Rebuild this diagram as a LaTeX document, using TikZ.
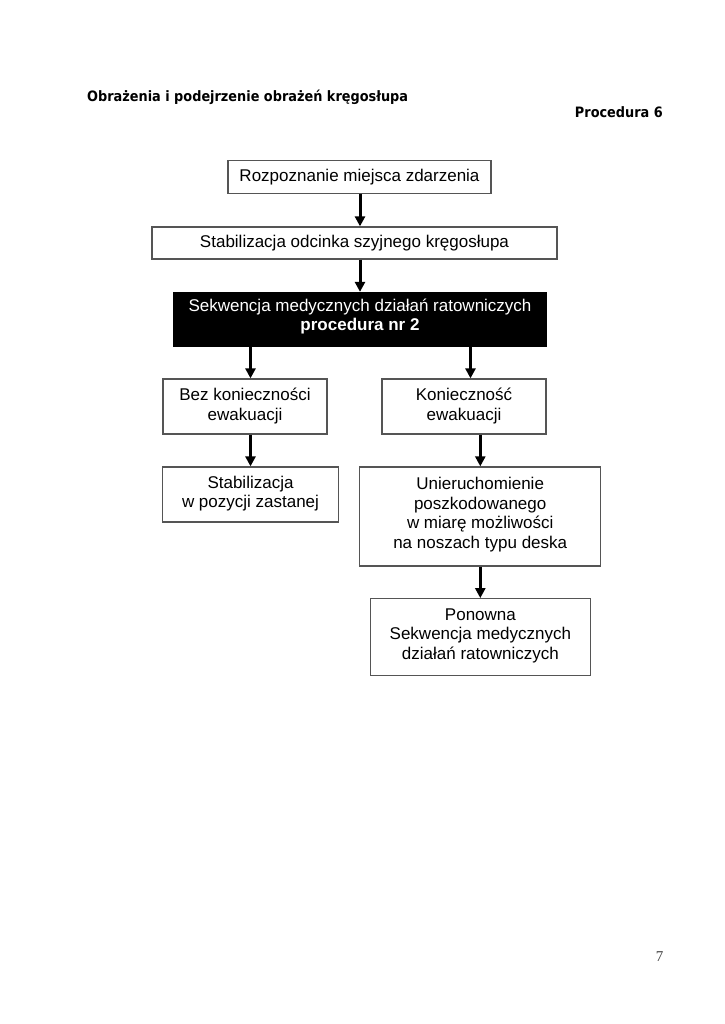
\documentclass[tikz,border=0pt]{standalone}
\usepackage{fontspec}
\setmainfont{Liberation Sans}
\newfontfamily\titlefont[FakeStretch=0.9]{DejaVu Sans}
\newfontfamily\pagefont{Liberation Serif}
\usetikzlibrary{arrows.meta}
\definecolor{boxline}{HTML}{555555}
\tikzset{
  stepbox/.style={draw=boxline, line width=1.3pt, fill=white, inner sep=0pt,
    align=center, font=\fontsize{17}{19.6}\selectfont},
  blackbox/.style={draw=black, line width=1.3pt, fill=black, text=white, inner sep=0pt,
    align=center, font=\fontsize{17}{19}\selectfont},
  arr/.style={line width=3pt, -{Triangle[width=10pt,length=10pt]}},
  heading/.style={inner sep=0pt, font=\titlefont\bfseries\fontsize{14.3}{16}\selectfont}
}
\begin{document}
\begin{tikzpicture}[x=1pt,y=-1pt]
\useasboundingbox (0,0) rectangle (724,1024);
\fill[white] (0,0) rectangle (724,1024);

\node[heading, anchor=base west] (title) at (87,101.5) {Obrażenia i podejrzenie obrażeń kręgosłupa};
\node[heading, anchor=base east] (proc) at (663,117.5) {Procedura 6};

\node[stepbox, minimum width=263pt, minimum height=32.5pt] (b1) at (359.5,177) {Rozpoznanie miejsca zdarzenia};
\node[stepbox, minimum width=405pt, minimum height=32pt] (b2) at (354.5,243) {Stabilizacja odcinka szyjnego kręgosłupa};
\node[blackbox, minimum width=373pt, minimum height=54pt, text depth=9pt] (b3) at (360,319.5) {Sekwencja medycznych działań ratowniczych\\\textbf{procedura nr 2}};
\node[stepbox, minimum width=164pt, minimum height=55pt, text depth=5pt] (b4) at (245,406.5) {Bez konieczności\\ewakuacji};
\node[stepbox, minimum width=164pt, minimum height=55pt, text depth=5pt] (b5) at (464,406.5) {Konieczność\\ewakuacji};
\node[stepbox, minimum width=175.5pt, minimum height=55pt, text depth=5pt] (b6) at (250.5,494.5) {Stabilizacja\\w pozycji zastanej};
\node[stepbox, minimum width=241pt, minimum height=99pt, text depth=7.5pt] (b7) at (480.2,516.5) {Unieruchomienie\\poszkodowanego\\w miarę możliwości\\na noszach typu deska};
\node[stepbox, minimum width=219.5pt, minimum height=76.5pt, text depth=6.5pt] (b8) at (480.4,637) {Ponowna\\Sekwencja medycznych\\działań ratowniczych};

\coordinate (xm) at (360,0);
\coordinate (xl) at (250.5,0);
\coordinate (xr) at (470.5,0);
\coordinate (xr2) at (480.3,0);

\draw[arr] (b1.south -| xm) -- (b2.north -| xm);
\draw[arr] (b2.south -| xm) -- (b3.north -| xm);
\draw[arr] (b3.south -| xl) -- (b4.north -| xl);
\draw[arr] (b3.south -| xr) -- (b5.north -| xr);
\draw[arr] (b4.south -| xl) -- (b6.north -| xl);
\draw[arr] (b5.south -| xr2) -- (b7.north -| xr2);
\draw[arr] (b7.south -| xr2) -- (b8.north -| xr2);

\node[inner sep=0pt, anchor=base east, text=black!75, font=\pagefont\fontsize{15}{17}\selectfont] (pnum) at (663.5,961.5) {7};
\end{tikzpicture}
\end{document}
